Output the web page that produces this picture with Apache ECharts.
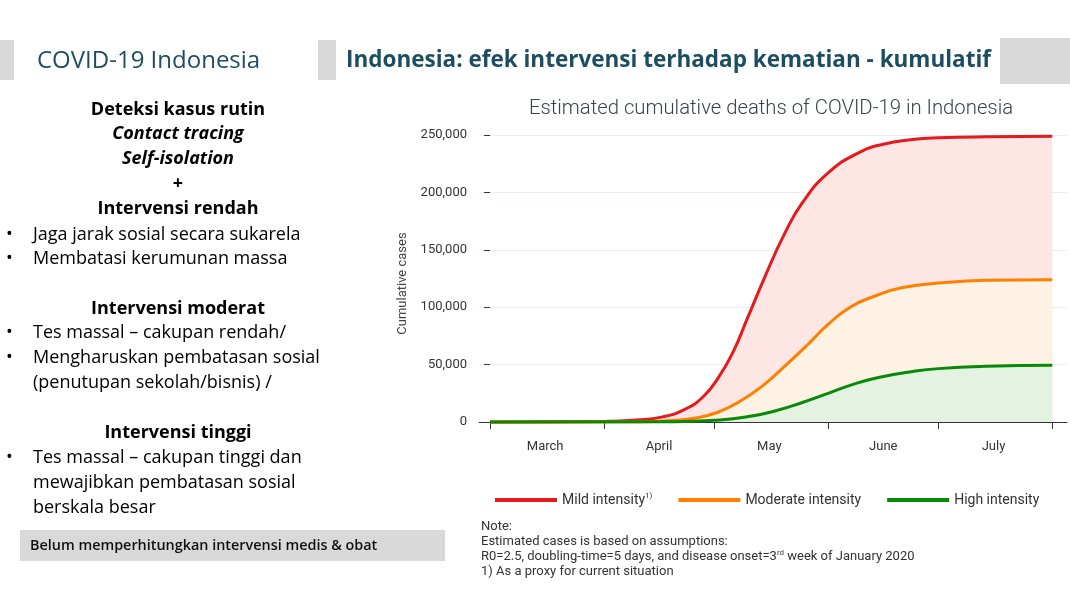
<!DOCTYPE html>
<html><head><meta charset="utf-8">
<script src="https://cdn.jsdelivr.net/npm/echarts@6/dist/echarts.min.js"></script>
<style>html,body{margin:0;padding:0;background:#fff}#c{width:1070px;height:600px}</style>
</head><body><div id="c"></div>
<script>
// day index: 0 = 1 March, 153 = 1 August
const monthTicks = [0, 31, 61, 92, 122, 153];
const monthLabelPos = [15, 46, 76, 107, 137];
const monthNames = ['March', 'April', 'May', 'June', 'July'];
const yTicks = [0, 50000, 100000, 150000, 200000, 250000];
const mildData = [[0,0],[30,500],[40,1800],[47,4500],[53,11000],[58,22000],[62,38000],[66,60000],[70,90000],[75,128000],[80,163000],[85,191000],[92,217000],[100,234000],[107,242000],[115,246000],[122,247500],[135,248500],[153,249000]];
const moderateData = [[0,0],[40,300],[50,1500],[56,3500],[62,8500],[68,18000],[74,31000],[80,48000],[86,66000],[92,85000],[98,100000],[105,110000],[112,117000],[122,121000],[135,123500],[153,124000]];
const highData = [[0,0],[50,300],[61,1500],[70,4500],[78,10000],[85,17000],[92,25000],[99,33000],[106,39000],[115,44000],[122,46500],[135,48500],[153,49500]];
const leftLines = [
 {t:'Deteksi kasus rutin', y:110, c:true, b:true},
 {t:'Contact tracing', y:134, c:true, b:true, i:true},
 {t:'Self-isolation', y:159, c:true, b:true, i:true},
 {t:'+', y:184, c:true, b:true},
 {t:'Intervensi rendah', y:209, c:true, b:true},
 {t:'Jaga jarak sosial secara sukarela', y:235, bl:true},
 {t:'Membatasi kerumunan massa', y:259, bl:true},
 {t:'Intervensi moderat', y:309, c:true, b:true},
 {t:'Tes massal – cakupan rendah/', y:333, bl:true},
 {t:'Mengharuskan pembatasan sosial', y:358, bl:true},
 {t:'(penutupan sekolah/bisnis) /', y:383},
 {t:'Intervensi tinggi', y:433, c:true, b:true},
 {t:'Tes massal – cakupan tinggi dan', y:458, bl:true},
 {t:'mewajibkan pembatasan sosial', y:483},
 {t:'berskala besar', y:508}
];
const FONT = '"Open Sans", Lato, sans-serif';
const graphics = [
 {type:'rect', shape:{x:0,y:40,width:14,height:40}, style:{fill:'#d9d9d9'}},
 {type:'rect', shape:{x:318,y:40,width:18,height:40}, style:{fill:'#d9d9d9'}},
 {type:'rect', shape:{x:1000,y:38,width:70,height:46}, style:{fill:'#d9d9d9'}},
 {type:'text', x:37, y:61, style:{text:'COVID-19 Indonesia', font:'24px '+FONT, fill:'#1c4e63', verticalAlign:'middle'}},
 {type:'text', x:346, y:61, style:{text:'Indonesia: efek intervensi terhadap kematian - kumulatif', font:'bold 22.5px '+FONT, fill:'#1c4e63', verticalAlign:'middle'}},
 {type:'text', x:771, y:109, style:{text:'Estimated cumulative deaths of COVID-19 in Indonesia', font:'300 20.3px Roboto', fill:'#3a3f4a', align:'center', verticalAlign:'middle'}},
 {type:'rect', shape:{x:20,y:530,width:425,height:31}, style:{fill:'#d9d9d9'}},
 {type:'text', x:30, y:546, style:{text:'Belum memperhitungkan intervensi medis & obat', font:'600 14.4px '+FONT, fill:'#111', verticalAlign:'middle'}},
 {type:'text', left:481, top:519, style:{
   text:'Note:\nEstimated cases is based on assumptions:\nR0=2.5, doubling-time=5 days, and disease onset=3{s|rd} week of January 2020\n1) As a proxy for current situation',
   font:'13px Roboto', fill:'#333', lineHeight:15, rich:{s:{fontSize:8, verticalAlign:'top', fill:'#333', padding:[0,0,6,0]}}}}
];
leftLines.forEach(l => {
  const font = (l.i ? 'italic ' : '') + (l.b ? 'bold ' : '') + '18px ' + FONT;
  if (l.c) graphics.push({type:'text', x:178, y:l.y, style:{text:l.t, font, fill:'#000', align:'center', verticalAlign:'middle'}});
  else graphics.push({type:'text', x:33, y:l.y, style:{text:l.t, font, fill:'#000', verticalAlign:'middle'}});
  if (l.bl) graphics.push({type:'text', x:6, y:l.y, style:{text:'•', font:'18px '+FONT, fill:'#000', verticalAlign:'middle'}});
});
const chart = echarts.init(document.getElementById('c'));
chart.setOption({
  animation:false,
  graphic: graphics,
  grid:{left:479, right:3, top:135, bottom:168},
  legend:{bottom:88, left:490, itemWidth:62, itemHeight:4, itemGap:26, icon:'rect',
    data:['Mild intensity','Moderate intensity','High intensity'],
    textStyle:{fontFamily:'Roboto', fontSize:14, color:'#333', rich:{s:{fontSize:8, verticalAlign:'top', padding:[0,0,8,0]}}},
    formatter: n => n === 'Mild intensity' ? 'Mild intensity{s|1)}' : n},
  xAxis:{type:'value', min:-3, max:157,
    axisLine:{show:true, lineStyle:{color:'#333'}},
    axisTick:{show:true, customValues:monthTicks, length:7, lineStyle:{color:'#333'}},
    axisLabel:{customValues:monthLabelPos, formatter:v => monthNames[monthLabelPos.indexOf(v)] || '', fontFamily:'Roboto', fontSize:13, color:'#333', margin:8},
    splitLine:{show:false}},
  yAxis:{type:'value', min:-8700, max:250000, name:'Cumulative cases', nameLocation:'middle', nameGap:70,
    nameTextStyle:{fontFamily:'Roboto', fontSize:13, color:'#444'},
    axisLine:{show:false},
    axisTick:{show:true, customValues:yTicks, length:6, lineStyle:{color:'#333'}},
    axisLabel:{customValues:yTicks, formatter:v => v.toLocaleString('en-US'), fontFamily:'Roboto', fontSize:13, color:'#333', margin:12},
    splitLine:{show:true, lineStyle:{color:'#e6eef1'}}},
  series:[
    {name:'Mild intensity', type:'line', data:mildData, smooth:0.5, showSymbol:false, color:'#e41a1c', lineStyle:{width:3, color:'#e41a1c'}, areaStyle:{color:'#fde6e3', opacity:1}, z:2},
    {name:'Moderate intensity', type:'line', data:moderateData, smooth:0.5, showSymbol:false, color:'#ff7f00', lineStyle:{width:3, color:'#ff7f00'}, areaStyle:{color:'#fef2e5', opacity:1}, z:3},
    {name:'High intensity', type:'line', data:highData, smooth:0.5, showSymbol:false, color:'#078a07', lineStyle:{width:3, color:'#078a07'}, areaStyle:{color:'#e4f3e1', opacity:1}, z:4}
  ]
});
</script></body></html>
